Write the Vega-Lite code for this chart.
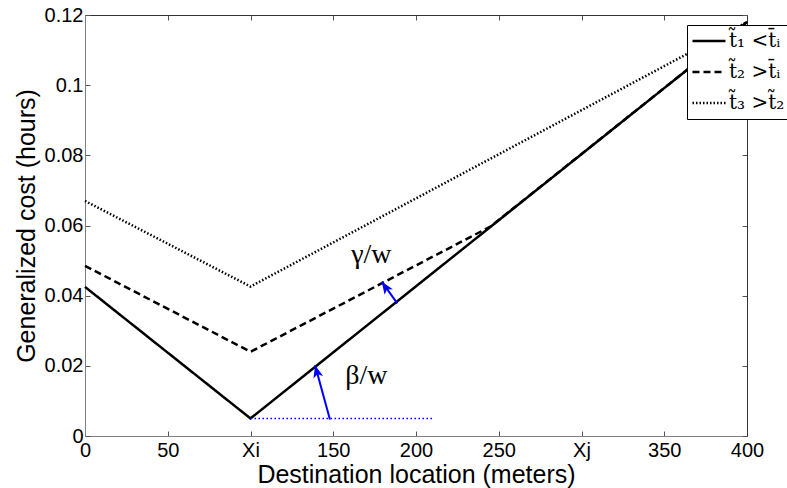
{
  "$schema": "https://vega.github.io/schema/vega-lite/v6.json",
  "width": 662,
  "height": 421,
  "autosize": {"type": "none"},
  "padding": {"left": 85, "top": 15, "right": 40, "bottom": 52},
  "background": "white",
  "config": {
    "view": {"stroke": null},
    "axis": {"grid": false, "labelFont": "Liberation Sans", "titleFont": "Liberation Sans", "labelColor": "black", "titleColor": "black", "titleFontWeight": "normal"}
  },
  "datasets": {
    "curves": [
      {"series": "t1", "x": 0, "y": 0.0425},
      {"series": "t1", "x": 100, "y": 0.005},
      {"series": "t1", "x": 400, "y": 0.118},
      {"series": "t2", "x": 0, "y": 0.0485},
      {"series": "t2", "x": 100, "y": 0.024},
      {"series": "t2", "x": 245, "y": 0.0597},
      {"series": "t2", "x": 400, "y": 0.118},
      {"series": "t3", "x": 0, "y": 0.067},
      {"series": "t3", "x": 100, "y": 0.0426},
      {"series": "t3", "x": 400, "y": 0.118}
    ],
    "baseline": [{"x": 100, "x2": 210, "y": 0.005}],
    "arrows": [
      {"id": "beta", "x": 148, "y": 0.0047, "x2": 139, "y2": 0.0202},
      {"id": "gamma", "x": 188.7, "y": 0.0378, "x2": 179.3, "y2": 0.044}
    ],
    "labels": [
      {"x": 173, "y": 0.0516, "text": "γ/w"},
      {"x": 170, "y": 0.017, "text": "β/w"}
    ]
  },
  "resolve": {"axis": {"x": "independent", "y": "independent"}},
  "layer": [
    {
      "data": {"name": "curves"},
      "mark": {"type": "line", "color": "black", "strokeWidth": 2.5},
      "encoding": {
        "x": {"field": "x", "type": "quantitative", "scale": {"domain": [0, 400], "nice": false},
          "axis": {"orient": "bottom", "values": [0, 50, 100, 150, 200, 250, 300, 350, 400],
            "labelExpr": "datum.value == 100 ? 'Xi' : datum.value == 300 ? 'Xj' : datum.label",
            "labelFlush": false, "labelOverlap": false,
            "tickSize": -5, "labelPadding": 9, "labelFontSize": 20, "domainColor": "#808080", "tickColor": "#555",
            "title": "Destination location (meters)", "titleFontSize": 25, "titlePadding": 2}},
        "y": {"field": "y", "type": "quantitative", "scale": {"domain": [0, 0.12], "nice": false},
          "axis": {"orient": "left", "values": [0, 0.02, 0.04, 0.06, 0.08, 0.1, 0.12],
            "labelExpr": "datum.value == 0 ? '0' : datum.value < 0.03 ? '0.02' : datum.value < 0.05 ? '0.04' : datum.value < 0.07 ? '0.06' : datum.value < 0.09 ? '0.08' : datum.value < 0.11 ? '0.1' : '0.12'",
            "labelFlush": false, "labelOverlap": false,
            "tickSize": -5, "labelPadding": 7, "labelFontSize": 20, "domainColor": "#808080", "tickColor": "#555",
            "title": "Generalized cost (hours)", "titleFontSize": 25, "titlePadding": 5}},
        "strokeDash": {"field": "series", "type": "nominal",
          "scale": {"domain": ["t1", "t2", "t3"], "range": [[1, 0], [7, 4], [1.5, 2]]},
          "legend": {"orient": "none", "legendX": 602, "legendY": 10, "title": null,
            "labelExpr": "datum.value == 't1' ? 't\u0303\u2081 <t\u0304\u1d62' : datum.value == 't2' ? 't\u0303\u2082 >t\u0304\u1d62' : 't\u0303\u2083 >t\u0303\u2082'",
            "symbolType": "stroke", "symbolSize": 1089, "symbolStrokeWidth": 2.5, "symbolStrokeColor": "black",
            "labelFont": "DejaVu Serif", "labelFontSize": 20, "labelColor": "black", "labelOffset": 2,
            "clipHeight": 24, "rowPadding": 7, "padding": 4, "fillColor": "white", "strokeColor": "black"}}
      }
    },
    {
      "data": {"name": "baseline"},
      "mark": {"type": "rule", "color": "blue", "strokeWidth": 1.5, "strokeDash": [1.5, 2.5]},
      "encoding": {
        "x": {"field": "x", "type": "quantitative", "scale": {"domain": [0, 400], "nice": false},
          "axis": {"orient": "top", "values": [0, 50, 100, 150, 200, 250, 300, 350, 400], "labels": false, "title": null, "tickSize": -5, "domainColor": "#333", "tickColor": "#555"}},
        "x2": {"field": "x2"},
        "y": {"field": "y", "type": "quantitative", "scale": {"domain": [0, 0.12], "nice": false},
          "axis": {"orient": "right", "values": [0, 0.02, 0.04, 0.06, 0.08, 0.1, 0.12], "labels": false, "title": null, "tickSize": -5, "domainColor": "#333", "tickColor": "#555"}}
      }
    },
    {
      "data": {"name": "arrows"},
      "mark": {"type": "rule", "color": "blue", "strokeWidth": 2},
      "encoding": {
        "x": {"field": "x", "type": "quantitative", "axis": null},
        "y": {"field": "y", "type": "quantitative", "axis": null},
        "x2": {"field": "x2"},
        "y2": {"field": "y2"}
      }
    },
    {
      "data": {"name": "arrows"},
      "transform": [{"filter": "datum.id == 'beta'"}],
      "mark": {"type": "point", "shape": "M0,0L-0.4,1L0,0.75L0.4,1Z", "filled": true, "color": "blue", "size": 625, "angle": 345, "opacity": 1},
      "encoding": {
        "x": {"field": "x2", "type": "quantitative", "axis": null},
        "y": {"field": "y2", "type": "quantitative", "axis": null}
      }
    },
    {
      "data": {"name": "arrows"},
      "transform": [{"filter": "datum.id == 'gamma'"}],
      "mark": {"type": "point", "shape": "M0,0L-0.4,1L0,0.75L0.4,1Z", "filled": true, "color": "blue", "size": 625, "angle": 326, "opacity": 1},
      "encoding": {
        "x": {"field": "x2", "type": "quantitative", "axis": null},
        "y": {"field": "y2", "type": "quantitative", "axis": null}
      }
    },
    {
      "data": {"name": "labels"},
      "mark": {"type": "text", "font": "Liberation Serif", "fontSize": 28, "color": "black", "align": "center", "baseline": "middle"},
      "encoding": {
        "x": {"field": "x", "type": "quantitative", "axis": null},
        "y": {"field": "y", "type": "quantitative", "axis": null},
        "text": {"field": "text"}
      }
    }
  ]
}
